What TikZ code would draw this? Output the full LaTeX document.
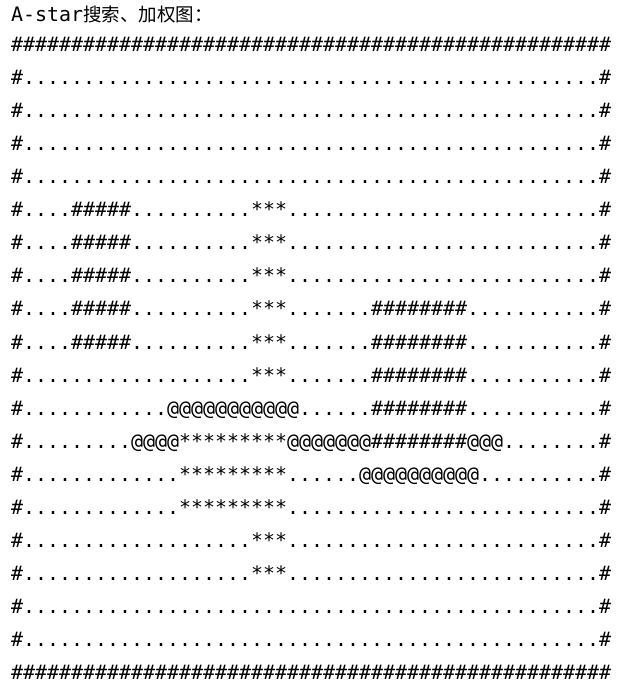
\documentclass[tikz,border=0pt]{standalone}
\usepackage{fontspec}
\setmonofont{DejaVu Sans Mono}
\newfontfamily\cjkfont{Noto Sans CJK SC}
\newcommand{\chrun}[2]{\foreach \k in {1,...,#1}{#2}}
\tikzset{
    gridrow/.style={anchor=base west, inner sep=0pt,
        font=\ttfamily\fontsize{19.93}{20}\selectfont}
}
\begin{document}
\begin{tikzpicture}[x=1pt, y=-1pt]
    \useasboundingbox (0,0) rectangle (630,694);
    % Title
    \node [gridrow] (Title) at (11,21)
    {A-star{\cjkfont\fontsize{18.5}{20}\selectfont 搜索、加权图：}};
    % Map
    \node [gridrow] (Row0)  at (11,51.5)  {\chrun{50}{\#}};
    \node [gridrow] (Row1)  at (11,84.6)  {\#\chrun{48}{.}\#};
    \node [gridrow] (Row2)  at (11,117.6) {\#\chrun{48}{.}\#};
    \node [gridrow] (Row3)  at (11,150.7) {\#\chrun{48}{.}\#};
    \node [gridrow] (Row4)  at (11,183.7) {\#\chrun{48}{.}\#};
    \node [gridrow] (Row5)  at (11,216.8)
    {\#\chrun{4}{.}\chrun{5}{\#}\chrun{10}{.}***\chrun{26}{.}\#};
    \node [gridrow] (Row6)  at (11,249.8)
    {\#\chrun{4}{.}\chrun{5}{\#}\chrun{10}{.}***\chrun{26}{.}\#};
    \node [gridrow] (Row7)  at (11,282.9)
    {\#\chrun{4}{.}\chrun{5}{\#}\chrun{10}{.}***\chrun{26}{.}\#};
    \node [gridrow] (Row8)  at (11,315.9)
    {\#\chrun{4}{.}\chrun{5}{\#}\chrun{10}{.}***\chrun{7}{.}\chrun{8}{\#}\chrun{11}{.}\#};
    \node [gridrow] (Row9)  at (11,349.0)
    {\#\chrun{4}{.}\chrun{5}{\#}\chrun{10}{.}***\chrun{7}{.}\chrun{8}{\#}\chrun{11}{.}\#};
    \node [gridrow] (Row10) at (11,382.0)
    {\#\chrun{19}{.}***\chrun{7}{.}\chrun{8}{\#}\chrun{11}{.}\#};
    \node [gridrow] (Row11) at (11,415.1)
    {\#\chrun{12}{.}\chrun{11}{@}\chrun{6}{.}\chrun{8}{\#}\chrun{11}{.}\#};
    \node [gridrow] (Row12) at (11,448.1)
    {\#\chrun{9}{.}@@@@\chrun{9}{*}\chrun{7}{@}\chrun{8}{\#}@@@\chrun{8}{.}\#};
    \node [gridrow] (Row13) at (11,481.2)
    {\#\chrun{13}{.}\chrun{9}{*}\chrun{6}{.}\chrun{10}{@}\chrun{10}{.}\#};
    \node [gridrow] (Row14) at (11,514.2)
    {\#\chrun{13}{.}\chrun{9}{*}\chrun{26}{.}\#};
    \node [gridrow] (Row15) at (11,547.3)
    {\#\chrun{19}{.}***\chrun{26}{.}\#};
    \node [gridrow] (Row16) at (11,580.3)
    {\#\chrun{19}{.}***\chrun{26}{.}\#};
    \node [gridrow] (Row17) at (11,613.4) {\#\chrun{48}{.}\#};
    \node [gridrow] (Row18) at (11,646.4) {\#\chrun{48}{.}\#};
    \node [gridrow] (Row19) at (11,679.5) {\chrun{50}{\#}};
\end{tikzpicture}
\end{document}
